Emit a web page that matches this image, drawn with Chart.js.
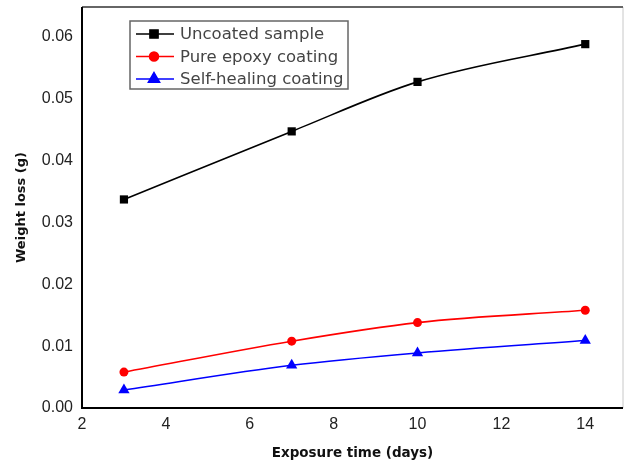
<!DOCTYPE html>
<html>
<head>
<meta charset="utf-8">
<script src="https://cdn.jsdelivr.net/npm/chart.js@4/dist/chart.umd.min.js"></script>
<style>
  html, body { margin: 0; padding: 0; background: #fff; }
  #wrap { width: 626px; height: 466px; }
</style>
</head>
<body>
<div id="wrap"><canvas id="my-chart" width="626" height="466"></canvas></div>
<script>
// exposure days
const days = [3, 7, 10, 14];

// weight loss (g)
const uncoated = [0.0337, 0.0447, 0.0527, 0.0588];
const pureEpoxy = [0.0058, 0.0108, 0.0138, 0.0158];
const selfHealing = [0.0029, 0.0069, 0.0089, 0.0109];

const xTicks = [2, 4, 6, 8, 10, 12, 14];
const yTicks = [0, 0.01, 0.02, 0.03, 0.04, 0.05, 0.06];

const seriesNames = ['Uncoated sample', 'Pure epoxy coating', 'Self-healing coating'];

function toPoints(vals) {
  return days.map((d, i) => ({ x: d, y: vals[i] }));
}

// frame around plot + the boxed legend
const framePlugin = {
  id: 'frame',
  afterDraw(chart) {
    const { ctx, chartArea: a } = chart;
    ctx.save();
    // right side, light
    ctx.strokeStyle = '#c8c8c8';
    ctx.lineWidth = 1;
    ctx.beginPath();
    ctx.moveTo(a.right, a.top);
    ctx.lineTo(a.right, a.bottom);
    ctx.stroke();
    // top
    ctx.strokeStyle = '#666';
    ctx.lineWidth = 2;
    ctx.beginPath();
    ctx.moveTo(a.left, a.top);
    ctx.lineTo(a.right, a.top);
    ctx.stroke();
    // axes
    ctx.strokeStyle = '#000';
    ctx.lineWidth = 2;
    ctx.beginPath();
    ctx.moveTo(a.left, a.top);
    ctx.lineTo(a.left, a.bottom);
    ctx.lineTo(a.right, a.bottom);
    ctx.stroke();

    // legend box
    const bx = 130, by = 21, bw = 218, bh = 68;
    ctx.fillStyle = '#fff';
    ctx.fillRect(bx, by, bw, bh);
    ctx.strokeStyle = '#666';
    ctx.lineWidth = 1.5;
    ctx.strokeRect(bx, by, bw, bh);
    ctx.font = '16.5px "DejaVu Sans"';
    ctx.textBaseline = 'middle';
    chart.data.datasets.forEach((ds, i) => {
      const y = by + 13 + i * 22.5;
      ctx.strokeStyle = ds.borderColor;
      ctx.lineWidth = 1.5;
      ctx.beginPath();
      ctx.moveTo(bx + 6, y);
      ctx.lineTo(bx + 44, y);
      ctx.stroke();
      Chart.helpers.drawPoint(ctx, {
        pointStyle: ds.pointStyle,
        rotation: 0,
        radius: ds.pointRadius,
        borderWidth: 1
      }, bx + 24, y);
      ctx.fillStyle = ds.borderColor;
      ctx.fill();
      ctx.fillStyle = '#444';
      ctx.fillText(ds.label, bx + 50, y + 1);
    });
    ctx.restore();
  }
};

const ctx = document.getElementById('my-chart').getContext('2d');

const myChart = new Chart(ctx, {
  type: 'line',
  data: {
    datasets: [
      {
        label: seriesNames[0],
        data: toPoints(uncoated),
        borderColor: '#000',
        backgroundColor: '#000',
        pointStyle: 'rect',
        pointRadius: 5.8,
      },
      {
        label: seriesNames[1],
        data: toPoints(pureEpoxy),
        borderColor: '#ff0000',
        backgroundColor: '#ff0000',
        pointStyle: 'circle',
        pointRadius: 4.5,
      },
      {
        label: seriesNames[2],
        data: toPoints(selfHealing),
        borderColor: '#0000ff',
        backgroundColor: '#0000ff',
        pointStyle: 'triangle',
        pointRadius: 6.5,
      },
    ].map((d) => Object.assign(d, {
      borderWidth: 1.6,
      pointBorderWidth: 0,
      tension: 0.4,
      cubicInterpolationMode: 'monotone',
      fill: false,
    })),
  },
  options: {
    responsive: false,
    animation: false,
    layout: { autoPadding: false, padding: { top: 7, right: 3, left: 0, bottom: 0 } },
    plugins: {
      legend: { display: false },
      tooltip: { enabled: false },
    },
    scales: {
      x: {
        type: 'linear',
        min: 2,
        max: 14.9,
        grid: { display: false, drawTicks: false },
        border: { display: false },
        afterBuildTicks: (axis) => { axis.ticks = xTicks.map((v) => ({ value: v })); },
        afterFit: (axis) => {
          axis.height = 58;
          axis.paddingLeft = 0;
          axis.paddingRight = 0;
        },
        ticks: {
          padding: 7,
          color: '#222',
          font: { family: 'Liberation Sans', size: 16 },
          maxRotation: 0,
        },
        title: {
          display: true,
          text: 'Exposure time (days)',
          color: '#111',
          font: { family: 'DejaVu Sans', size: 13.5, weight: 'bold' },
          padding: { top: 10 },
        },
      },
      y: {
        type: 'linear',
        min: 0,
        max: 0.0648,
        grid: { display: false, drawTicks: false },
        border: { display: false },
        afterBuildTicks: (axis) => { axis.ticks = yTicks.map((v) => ({ value: v })); },
        afterFit: (axis) => {
          axis.width = 82;
          axis.paddingTop = 0;
          axis.paddingBottom = 0;
        },
        ticks: {
          padding: 9,
          color: '#222',
          font: { family: 'Liberation Sans', size: 16 },
          callback: (v) => v.toFixed(2),
        },
        title: {
          display: true,
          text: 'Weight loss (g)',
          color: '#111',
          font: { family: 'DejaVu Sans', size: 13, weight: 'bold' },
          padding: { top: 14, bottom: 4 },
        },
      },
    },
  },
  plugins: [framePlugin],
});
</script>
</body>
</html>
